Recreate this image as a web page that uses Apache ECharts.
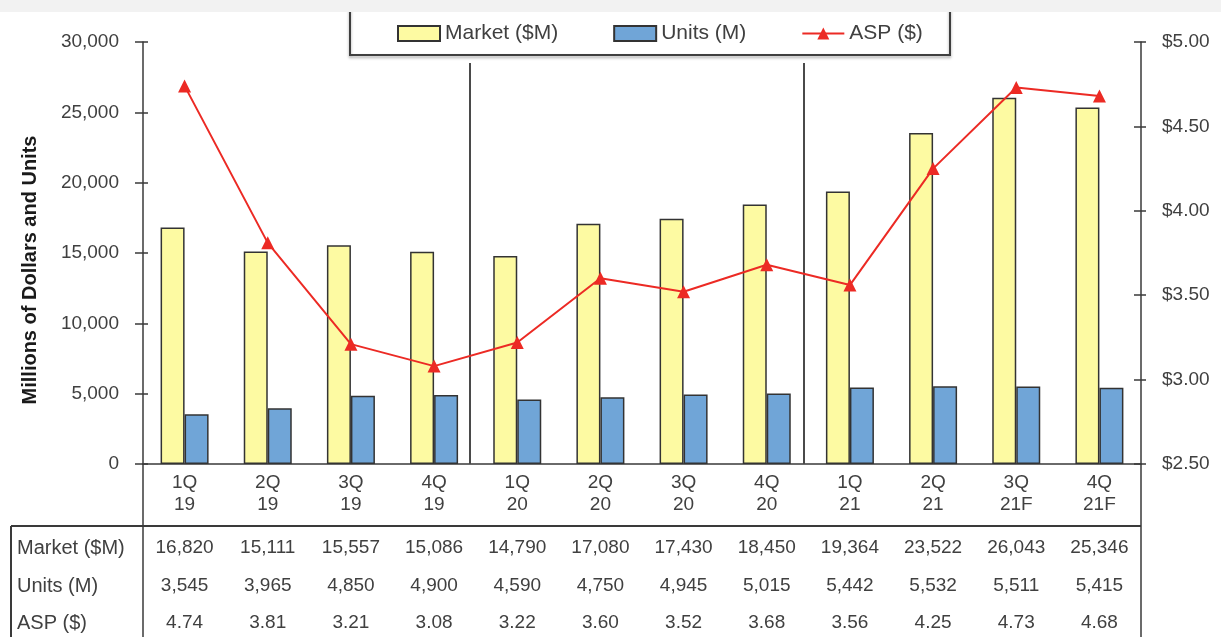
<!DOCTYPE html>
<html>
<head>
<meta charset="utf-8">
<script src="https://cdn.jsdelivr.net/npm/echarts@6/dist/echarts.min.js"></script>
<style>
  html, body { margin: 0; padding: 0; background: #ffffff; }
  #chart { width: 1221px; height: 637px; }
</style>
</head>
<body>
<div id="chart"></div>
<script>
// Quarterly market data
const quarters = ['1Q\n19', '2Q\n19', '3Q\n19', '4Q\n19', '1Q\n20', '2Q\n20', '3Q\n20', '4Q\n20', '1Q\n21', '2Q\n21', '3Q\n21F', '4Q\n21F'];
const market = [16820, 15111, 15557, 15086, 14790, 17080, 17430, 18450, 19364, 23522, 26043, 25346];
const units = [3545, 3965, 4850, 4900, 4590, 4750, 4945, 5015, 5442, 5532, 5511, 5415];
const asp = [4.74, 3.81, 3.21, 3.08, 3.22, 3.60, 3.52, 3.68, 3.56, 4.25, 4.73, 4.68];
const rowLabels = ['Market ($M)', 'Units (M)', 'ASP ($)'];
// Year separators, measured in category slots from the left edge
const yearBreaks = [3.93, 7.94];

const FONT = 'Liberation Sans, Arial, sans-serif';
const TXT = '#404040';
const LINE = '#3a3a3a';

const fmtInt = v => Number(v).toLocaleString('en-US');

// Plot area
const G = { left: 143, right: 80, top: 42, bottom: 173 };
const axisY = 637 - G.bottom;          // pixel row of the category axis
const rowY = [548, 586, 623];          // table row centres
const tableRows = [market.map(fmtInt), units.map(fmtInt), asp.map(v => v.toFixed(2))];

const chart = echarts.init(document.getElementById('chart'), null, { renderer: 'canvas' });

// Extra category axes carry the data table rows underneath the chart
const tableAxes = tableRows.map((row, r) => ({
  type: 'category',
  gridIndex: 0,
  position: 'bottom',
  data: quarters,
  boundaryGap: true,
  axisLine: { show: false },
  axisTick: { show: false },
  splitLine: { show: false },
  axisLabel: {
    interval: 0,
    margin: rowY[r] - axisY,
    verticalAlign: 'middle',
    fontFamily: FONT, fontSize: 19, color: TXT,
    formatter: (v, i) => row[i]
  }
}));

const option = {
  backgroundColor: '#ffffff',
  animation: false,
  textStyle: { fontFamily: FONT },
  grid: G,
  legend: {
    left: 392,
    top: 18,
    itemWidth: 42,
    itemHeight: 15,
    itemGap: 55,
    textStyle: { fontFamily: FONT, fontSize: 21, color: TXT },
    data: [
      { name: 'Market ($M)', icon: 'rect' },
      { name: 'Units (M)', icon: 'rect' },
      { name: 'ASP ($)' }
    ]
  },
  xAxis: [
    {
      type: 'category',
      data: quarters,
      boundaryGap: true,
      axisLine: { lineStyle: { color: LINE, width: 1.5 } },
      axisTick: { show: false },
      axisLabel: { interval: 0, margin: 8, lineHeight: 22, fontFamily: FONT, fontSize: 19, color: TXT }
    },
    ...tableAxes,
    {
      // hidden linear axis used to place the year separators
      type: 'value', gridIndex: 0, min: 0, max: quarters.length, show: false
    }
  ],
  yAxis: [
    {
      type: 'value', min: 0, max: 30000, interval: 5000,
      axisLine: { show: true, lineStyle: { color: LINE, width: 1.5 } },
      axisTick: { show: true, length: 8, lineStyle: { color: LINE, width: 1.5 } },
      splitLine: { show: false },
      axisLabel: { margin: 24, fontFamily: FONT, fontSize: 19, color: TXT, formatter: fmtInt }
    },
    {
      type: 'value', min: 2.5, max: 5, interval: 0.5, position: 'right',
      axisLine: { show: true, lineStyle: { color: LINE, width: 1.5 } },
      axisTick: { show: true, length: 5, lineStyle: { color: LINE, width: 1.5 } },
      splitLine: { show: false },
      axisLabel: { margin: 21, fontFamily: FONT, fontSize: 19, color: TXT, formatter: v => '$' + v.toFixed(2) }
    },
    {
      // inner half of the left tick marks
      type: 'value', min: 0, max: 30000, interval: 5000, position: 'left',
      axisLine: { show: false },
      axisTick: { show: true, inside: true, length: 5, lineStyle: { color: LINE, width: 1.5 } },
      axisLabel: { show: false }, splitLine: { show: false }
    },
    {
      // inner half of the right tick marks
      type: 'value', min: 2.5, max: 5, interval: 0.5, position: 'right',
      axisLine: { show: false },
      axisTick: { show: true, inside: true, length: 7, lineStyle: { color: LINE, width: 1.5 } },
      axisLabel: { show: false }, splitLine: { show: false }
    }
  ],
  series: [
    {
      name: 'Market ($M)', type: 'bar', xAxisIndex: 0, yAxisIndex: 0,
      data: market, barWidth: 24, barGap: '0%',
      itemStyle: { color: '#fdfaa2', borderColor: '#333333', borderWidth: 1.5 }
    },
    {
      name: 'Units (M)', type: 'bar', xAxisIndex: 0, yAxisIndex: 0,
      data: units, barWidth: 24, barGap: '0%',
      itemStyle: { color: '#70a5d7', borderColor: '#333333', borderWidth: 1.5 }
    },
    {
      name: 'ASP ($)', type: 'line', xAxisIndex: 0, yAxisIndex: 1,
      data: asp, symbol: 'triangle', symbolSize: 13,
      lineStyle: { color: '#ec2a24', width: 2 },
      itemStyle: { color: '#ec2a24' },
      z: 5
    },
    {
      // year separators
      type: 'line', xAxisIndex: 4, yAxisIndex: 0, data: [], silent: true,
      markLine: {
        silent: true, symbol: ['none', 'none'], label: { show: false },
        lineStyle: { color: '#4a4a4a', width: 2, type: 'solid' },
        data: yearBreaks.map(b => [{ coord: [b, 0] }, { coord: [b, 28500] }])
      }
    }
  ],
  graphic: [
    // legend frame
    {
      type: 'rect', z: 1, silent: true,
      shape: { x: 350, y: 2, width: 600, height: 53 },
      style: { fill: 'none', stroke: '#3f3f3f', lineWidth: 2, shadowBlur: 3, shadowColor: 'rgba(0,0,0,0.35)', shadowOffsetY: 2 }
    },
    // light band along the top edge
    {
      type: 'rect', z: 100, silent: true,
      shape: { x: 0, y: 0, width: 1221, height: 12 },
      style: { fill: '#f2f2f2' }
    },
    // axis title
    {
      type: 'text', silent: true, rotation: Math.PI / 2,
      x: 30, y: 270,
      style: {
        text: 'Millions of Dollars and Units', fill: '#1a1a1a',
        font: 'bold 20px ' + FONT, align: 'center', verticalAlign: 'middle'
      }
    },
    // table rules
    { type: 'line', silent: true, shape: { x1: 11, y1: 526, x2: 1141, y2: 526 }, style: { stroke: LINE, lineWidth: 2 } },
    { type: 'line', silent: true, shape: { x1: 11, y1: 526, x2: 11, y2: 637 }, style: { stroke: LINE, lineWidth: 2 } },
    { type: 'line', silent: true, shape: { x1: 143, y1: 464, x2: 143, y2: 637 }, style: { stroke: LINE, lineWidth: 1.5 } },
    { type: 'line', silent: true, shape: { x1: 1141, y1: 464, x2: 1141, y2: 637 }, style: { stroke: LINE, lineWidth: 1.5 } },
    // table row headings
    ...rowLabels.map((t, i) => ({
      type: 'text', silent: true, x: 17, y: rowY[i],
      style: { text: t, fill: TXT, font: '20px ' + FONT, align: 'left', verticalAlign: 'middle' }
    }))
  ]
};

chart.setOption(option);
</script>
</body>
</html>
